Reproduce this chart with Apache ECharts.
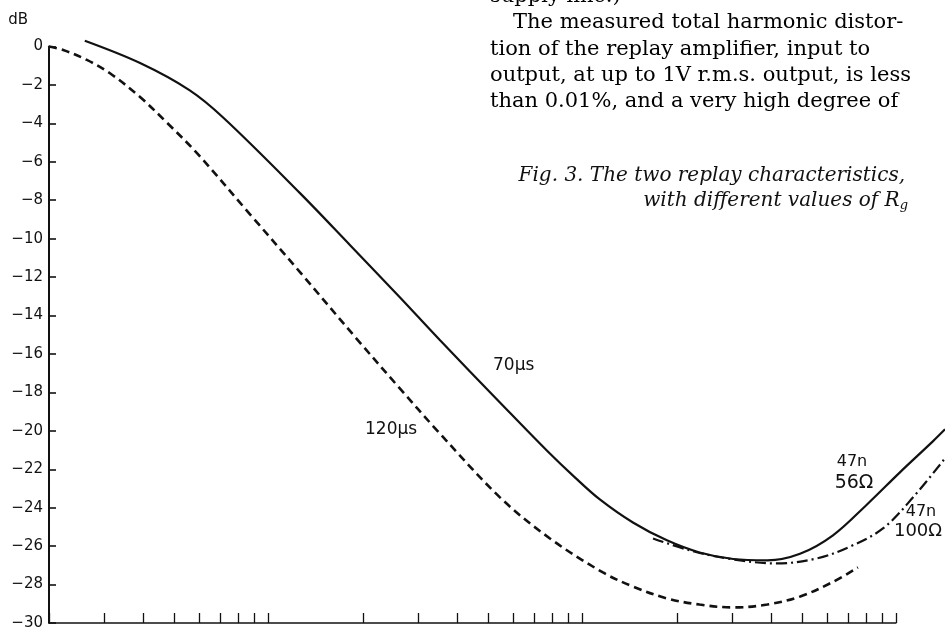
<!DOCTYPE html>
<html>
<head>
<meta charset="utf-8">
<script src="https://cdn.jsdelivr.net/npm/echarts@6/dist/echarts.min.js"></script>
<style>
  html, body { margin: 0; padding: 0; background: #fff; }
  #charts { width: 945px; height: 630px; }
</style>
</head>
<body>
<div id="charts"></div>
<script>
// frequency in Hz (log axis, unlabelled) and level in dB
const freq70 = [13, 19.5, 28, 36, 63, 91, 131, 176, 273, 385, 473, 568, 724, 929, 1180, 1510, 1940, 2466, 3140, 4030, 5130, 6530, 7140];
const db70 = [0.3, -0.86, -2.27, -3.72, -7.63, -10.34, -13.05, -15.29, -18.52, -21.02, -22.42, -23.57, -24.77, -25.7, -26.33, -26.67, -26.74, -26.4, -25.44, -23.83, -22.16, -20.55, -19.92];

const freq120 = [10, 11.1, 13.2, 15.6, 19.5, 23.8, 29.6, 43.6, 63, 96.4, 131, 172, 273, 394, 581, 724, 929, 1180, 1510, 1940, 2470, 3140, 3770];
const db120 = [0, -0.18, -0.7, -1.38, -2.63, -3.98, -5.55, -8.72, -11.74, -15.29, -17.79, -19.97, -23.46, -25.6, -27.37, -28.1, -28.72, -29.04, -29.19, -29.04, -28.62, -27.86, -27.11];

const freq100R = [839, 1099, 1442, 2080, 2790, 3560, 4530, 5650, 7140];
const db100R = [-25.6, -26.22, -26.64, -26.9, -26.64, -26.02, -25.08, -23.46, -21.43];

const xTicks = [10, 15, 20, 25, 30, 35, 40, 45, 50,
                100, 150, 200, 250, 300, 350, 400, 450, 500,
                1000, 1500, 2000, 2500, 3000, 3500, 4000, 4500, 5000];

const paragraph = [
    'supply line.)',
    'The measured total harmonic distor-',
    'tion of the replay amplifier, input to',
    'output, at up to 1V r.m.s. output, is less',
    'than 0.01%, and a very high degree of'
];

const toPairs = (f, d) => f.map((v, i) => [Math.log10(v), d[i]]);

const sansFont = '"DejaVu Sans", sans-serif';
const serifFont = '"DejaVu Serif", serif';

const lineBase = {
    type: 'line',
    showSymbol: false,
    smooth: 0.35,
    clip: false,
    silent: true,
    animation: false
};

const option = {
    backgroundColor: '#fff',
    grid: {
        left: 49,
        right: 0,
        top: 46.5,
        bottom: 7,
        containLabel: false,
        outerBoundsMode: 'none'
    },
    xAxis: {
        type: 'value',
        min: 1,
        max: Math.log10(7140),
        axisLine: { show: false, onZero: false },
        axisTick: {
            show: true,
            inside: true,
            length: 10,
            customValues: xTicks.map(v => Math.log10(v)),
            lineStyle: { color: '#111', width: 1.3 }
        },
        axisLabel: { show: false },
        splitLine: { show: false }
    },
    yAxis: {
        type: 'value',
        min: -30,
        max: 0,
        interval: 2,
        name: 'dB',
        nameLocation: 'end',
        nameGap: 19,
        nameTextStyle: {
            color: '#111',
            fontFamily: sansFont,
            fontSize: 15,
            align: 'right',
            verticalAlign: 'bottom',
            padding: [0, 21, 0, 0]
        },
        axisLine: { show: true, onZero: false, lineStyle: { color: '#111', width: 2 } },
        axisTick: { show: true, inside: true, length: 7, lineStyle: { color: '#111', width: 1.6 } },
        axisLabel: {
            margin: 6,
            color: '#111',
            fontFamily: sansFont,
            fontSize: 15,
            formatter: v => (v === 0 ? '0' : '\u2212' + Math.abs(v))
        },
        splitLine: { show: false }
    },
    series: [
        Object.assign({}, lineBase, {
            name: '70µs',
            data: toPairs(freq70, db70),
            lineStyle: { color: '#111', width: 2.2, type: 'solid' },
            // bottom axis line, stops at the last tick
            markLine: {
                silent: true,
                symbol: 'none',
                label: { show: false },
                lineStyle: { color: '#111', width: 1.6, type: 'solid' },
                data: [[{ coord: [1, -30] }, { coord: [Math.log10(5000), -30] }]]
            }
        }),
        Object.assign({}, lineBase, {
            name: '120µs',
            data: toPairs(freq120, db120),
            lineStyle: { color: '#111', width: 2.6, type: [8, 5] }
        }),
        Object.assign({}, lineBase, {
            name: '47n 100Ω',
            data: toPairs(freq100R, db100R),
            lineStyle: { color: '#111', width: 2.2, type: [11, 4, 2, 4] }
        })
    ],
    graphic: [
        // magazine text above the figure
        ...paragraph.map((t, i) => ({
            type: 'text',
            x: i === 1 ? 513 : 490,
            y: -3.5 + i * 26.3,
            style: { text: t, font: '21px ' + serifFont, fill: '#000', verticalAlign: 'middle' }
        })),
        {
            type: 'text',
            x: 905, y: 176,
            style: {
                text: 'Fig. 3. The two replay characteristics,',
                font: 'italic 20px ' + serifFont,
                fill: '#111', align: 'right', verticalAlign: 'middle'
            }
        },
        {
            type: 'text',
            x: 908, y: 201,
            style: {
                text: '{i|with different values of R}{s|g}',
                align: 'right', verticalAlign: 'middle',
                rich: {
                    i: { font: 'italic 20px ' + serifFont, fill: '#111' },
                    s: { font: 'italic 13px ' + serifFont, fill: '#111', padding: [10, 0, 0, 0] }
                }
            }
        },
        // curve labels
        { type: 'text', x: 493, y: 366, style: { text: '70µs', font: '17px ' + sansFont, fill: '#111', verticalAlign: 'middle' } },
        { type: 'text', x: 365, y: 430, style: { text: '120µs', font: '17px ' + sansFont, fill: '#111', verticalAlign: 'middle' } },
        { type: 'text', x: 852, y: 462, style: { text: '47n', font: '16px ' + sansFont, fill: '#111', align: 'center', verticalAlign: 'middle' } },
        { type: 'text', x: 854, y: 483, style: { text: '56Ω', font: '19px ' + sansFont, fill: '#111', align: 'center', verticalAlign: 'middle' } },
        { type: 'text', x: 921, y: 512, style: { text: '47n', font: '16px ' + sansFont, fill: '#111', align: 'center', verticalAlign: 'middle' } },
        { type: 'text', x: 918, y: 531, style: { text: '100Ω', font: '18px ' + sansFont, fill: '#111', align: 'center', verticalAlign: 'middle' } }
    ]
};

const chart = echarts.init(document.getElementById('charts'));
chart.setOption(option);
</script>
</body>
</html>
